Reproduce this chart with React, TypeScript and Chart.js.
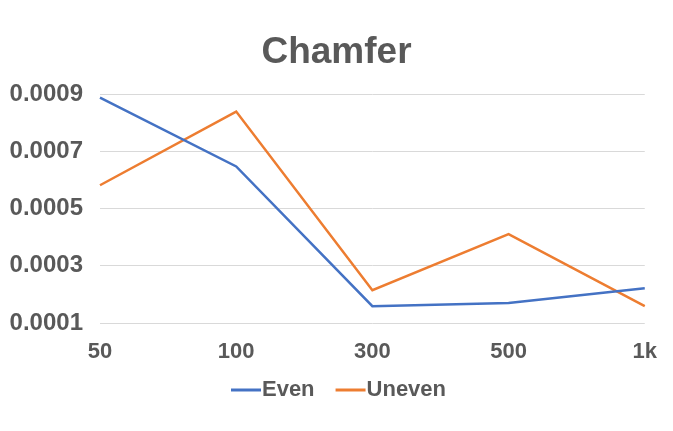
import React, { useEffect, useRef } from "react";
import { Chart, registerables } from "chart.js";

Chart.register(...registerables);

const categories = ["50", "100", "300", "500", "1k"];
const seriesNames = ["Even", "Uneven"];
const seriesColors = ["#4472C4", "#ED7D31"];
const evenValues = [0.000889, 0.000648, 0.000159, 0.00017, 0.000222];
const unevenValues = [0.000582, 0.00084, 0.000215, 0.000411, 0.000159];
const yTicks = [0.0001, 0.0003, 0.0005, 0.0007, 0.0009];
const titleText = "Chamfer";

const FONT = "'Liberation Sans', Arial, sans-serif";
const GRAY = "#595959";

const lineLegend = {
  id: "lineLegend",
  afterDraw(chart: any) {
    const ctx = chart.ctx;
    const font = `bold 22px ${FONT}`;
    const markerW = 30;
    const gapText = 1;
    const gapItem = 21;
    ctx.save();
    ctx.font = font;
    const items = chart.data.datasets.map((ds: any) => ({
      text: ds.label,
      color: ds.borderColor,
      w: markerW + gapText + ctx.measureText(ds.label).width,
    }));
    const total = items.reduce((s: number, it: any) => s + it.w, 0) + gapItem * (items.length - 1);
    let x = chart.width / 2 - total / 2 + 2;
    const y = 390;
    ctx.textBaseline = "middle";
    ctx.textAlign = "left";
    items.forEach((it: any) => {
      ctx.strokeStyle = it.color;
      ctx.lineWidth = 3;
      ctx.beginPath();
      ctx.moveTo(x, y);
      ctx.lineTo(x + markerW, y);
      ctx.stroke();
      ctx.fillStyle = GRAY;
      ctx.fillText(it.text, x + markerW + gapText, y);
      x += it.w + gapItem;
    });
    ctx.restore();
  },
};

export default function App() {
  const ref = useRef<HTMLCanvasElement | null>(null);

  useEffect(() => {
    if (!ref.current) return;
    const chart = new Chart(ref.current, {
      type: "line",
      data: {
        labels: categories,
        datasets: [
          {
            label: seriesNames[0],
            data: evenValues,
            borderColor: seriesColors[0],
            backgroundColor: seriesColors[0],
            borderWidth: 2.5,
            pointRadius: 0,
            tension: 0,
          },
          {
            label: seriesNames[1],
            data: unevenValues,
            borderColor: seriesColors[1],
            backgroundColor: seriesColors[1],
            borderWidth: 2.5,
            pointRadius: 0,
            tension: 0,
          },
        ],
      },
      plugins: [lineLegend],
      options: {
        animation: false,
        responsive: true,
        maintainAspectRatio: false,
        layout: { padding: { left: 0, right: 0, top: 0, bottom: 73 } },
        font: { family: FONT },
        plugins: {
          title: {
            display: true,
            text: titleText,
            color: GRAY,
            font: { family: FONT, size: 37, weight: "bold" },
            padding: { top: 31, bottom: 19 },
          },
          legend: { display: false },
          tooltip: { enabled: false },
        },
        scales: {
          x: {
            type: "category",
            offset: false,
            grid: { display: false, drawTicks: false },
            border: { display: false },
            ticks: {
              color: GRAY,
              font: { family: FONT, size: 22, weight: "bold" },
              padding: 16,
              maxRotation: 0,
              autoSkip: false,
            },
            afterFit: (scale: any) => {
              scale.height = 35;
            },
          },
          y: {
            min: yTicks[0],
            max: yTicks[yTicks.length - 1],
            afterBuildTicks: (scale: any) => {
              scale.ticks = yTicks.map((v) => ({ value: v }));
            },
            afterFit: (scale: any) => {
              scale.width = 100;
            },
            grid: { color: "#d9d9d9", drawTicks: false, lineWidth: 1 },
            border: { display: false },
            ticks: {
              color: GRAY,
              font: { family: FONT, size: 24, weight: "bold" },
              padding: 17,
              callback: (v: any) => Number(v).toFixed(4),
            },
          },
          yRight: {
            position: "right",
            display: true,
            grid: { display: false, drawTicks: false },
            border: { display: false },
            ticks: { display: false },
            afterFit: (scale: any) => {
              scale.width = 18;
            },
          },
        },
      },
    });
    return () => chart.destroy();
  }, []);

  return (
    <div style={{ position: "absolute", left: 0, top: 0, width: 673, height: 431, background: "#fff" }}>
      <canvas ref={ref} />
    </div>
  );
}
